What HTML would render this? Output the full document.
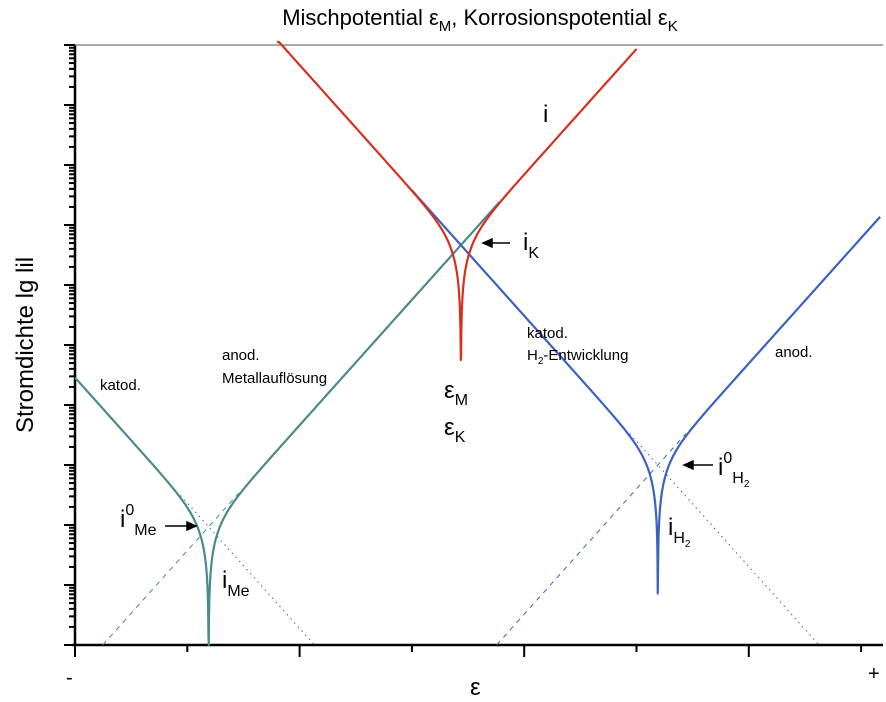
<!DOCTYPE html>
<html><head><meta charset="utf-8">
<style>
html,body{margin:0;padding:0;background:#fff;}
svg{display:block;font-family:"Liberation Sans",Arial,sans-serif;}
</style></head>
<body>
<svg id="chart" width="886" height="702" viewBox="0 0 886 702" xmlns="http://www.w3.org/2000/svg">
<text x="480" y="25" font-size="22" text-anchor="middle">Mischpotential ε<tspan font-size="15" dy="6">M</tspan><tspan dy="-6">, Korrosionspotential ε</tspan><tspan font-size="15" dy="6">K</tspan></text>
<text transform="translate(33,345) rotate(-90)" font-size="24" text-anchor="middle">Stromdichte   lg lil</text>
<g id="axes"></g>
<g id="series"></g>
<g font-size="15">
<text x="100" y="390">katod.</text>
<text x="222" y="360">anod.</text>
<text x="222" y="383">Metallauflösung</text>
<text x="527" y="338">katod.</text>
<text x="527" y="360">H<tspan font-size="10" dy="4">2</tspan><tspan dy="-4">-Entwicklung</tspan></text>
<text x="775" y="357">anod.</text>
</g>
<g font-size="24">
<text x="444" y="398">ε<tspan font-size="16" dy="7">M</tspan></text>
<text x="444" y="435">ε<tspan font-size="16" dy="7">K</tspan></text>
<text x="543" y="122">i</text>
<text x="523" y="250">i<tspan font-size="16" dy="8">K</tspan></text>
<text x="120" y="527">i<tspan font-size="16" dy="-12">0</tspan><tspan font-size="16" dy="20">Me</tspan></text>
<text x="222" y="588">i<tspan font-size="16" dy="8">Me</tspan></text>
<text x="718" y="475">i<tspan font-size="16" dy="-12">0</tspan><tspan font-size="16" dy="20">H</tspan><tspan font-size="10" dy="4">2</tspan></text>
<text x="668" y="535">i<tspan font-size="16" dy="8">H</tspan><tspan font-size="10" dy="4">2</tspan></text>
<text x="66" y="684" font-size="20">-</text>
<text x="470" y="695" font-size="24">ε</text>
<text x="868" y="680" font-size="20">+</text>
</g>
<g stroke="#000" stroke-width="1.5">
<line x1="510" y1="243" x2="488" y2="243"/><polygon points="483,243 492,239 492,247" fill="#000"/>
<line x1="713" y1="465" x2="690" y2="465"/><polygon points="684,465 693,461 693,469" fill="#000"/>
<line x1="165" y1="526" x2="190" y2="526"/><polygon points="196,526 187,522 187,530" fill="#000"/>
</g>
</svg>
<script>
// data (x in tick units, y in decades)
const eqPotential = [1.19, 5.19];      // metal, hydrogen
const exchangeDecade = [1.97, 3.0];    // lg i0
const tafelSlope = [2.09, 2.09];       // decades per x-unit
const floorDecade = [0.0, 0.62, 4.75]; // metal, hydrogen, total dip floor
const xTicks = [0,1,2,3,4,5,6,7];
const yDecades = [0,1,2,3,4,5,6,7,8,9,10];

const X0=75, XS=112.3, Y0=645, YS=60;
const sx = u => X0 + XS*u;
const sy = d => Y0 - YS*d;
const ns = "http://www.w3.org/2000/svg";
function mk(tag, parent){const e=document.createElementNS(ns,tag);parent.appendChild(e);return e;}
const axesG=document.getElementById('axes'), seriesG=document.getElementById('series');

const xAxisLine=mk('line',axesG);


xAxisLine.setAttribute('x1',sx(0)-3);xAxisLine.setAttribute('x2',883);xAxisLine.setAttribute('y1',Y0);xAxisLine.setAttribute('y2',Y0);
xAxisLine.setAttribute('stroke','#000');xAxisLine.setAttribute('stroke-width','2.5');
const yAxisLine=mk('line',axesG);


yAxisLine.setAttribute('x1',X0);yAxisLine.setAttribute('x2',X0);yAxisLine.setAttribute('y1',sy(10));yAxisLine.setAttribute('y2',Y0);
yAxisLine.setAttribute('stroke','#000');yAxisLine.setAttribute('stroke-width','2.5');
const topBorder=mk('line',axesG);


topBorder.setAttribute('x1',X0);topBorder.setAttribute('x2',883);topBorder.setAttribute('y1',sy(10));topBorder.setAttribute('y2',sy(10));
topBorder.setAttribute('stroke','#555');topBorder.setAttribute('stroke-width','1');
xTicks.forEach((t,i)=>{
  const l=mk('line',axesG);
  
  
  l.setAttribute('x1',sx(t));l.setAttribute('x2',sx(t));l.setAttribute('y1',Y0);l.setAttribute('y2',Y0+(i%2==0?12:7));
  l.setAttribute('stroke','#000');l.setAttribute('stroke-width','2');
});
yDecades.forEach(d=>{
  const l=mk('line',axesG);
  
  
  l.setAttribute('x1',X0-11);l.setAttribute('x2',X0);l.setAttribute('y1',sy(d));l.setAttribute('y2',sy(d));
  l.setAttribute('stroke','#000');l.setAttribute('stroke-width','2');
  if(d<10){for(let m=2;m<=9;m++){
    const k=mk('line',axesG);
    
    
    const yy=sy(d+Math.log10(m));
    k.setAttribute('x1',X0-6);k.setAttribute('x2',X0);k.setAttribute('y1',yy);k.setAttribute('y2',yy);
    k.setAttribute('stroke','#000');k.setAttribute('stroke-width','2');
  }}
});

function partial(k,u,dir){return Math.pow(10,exchangeDecade[k]+dir*tafelSlope[k]*(u-eqPotential[k]));}
function net(k,u){return partial(k,u,1)-partial(k,u,-1);}
function lg(v,fl){return Math.log10(Math.max(Math.abs(v),Math.pow(10,fl)));}
function drawPath(fn,u0,u1,color,w,dash,name){
  let d="";const N=1600;
  for(let i=0;i<=N;i++){const u=u0+(u1-u0)*i/N;let v=fn(u);v=Math.max(Math.min(v,10.05),0);
    d+=(i?"L":"M")+sx(u).toFixed(2)+","+sy(v).toFixed(2);}
  const p=mk('path',seriesG);
  
  
  p.setAttribute('d',d);p.setAttribute('fill','none');p.setAttribute('stroke',color);
  p.setAttribute('stroke-width',w);if(dash)p.setAttribute('stroke-dasharray',dash);
  p.setAttribute('stroke-linejoin','round');
}
const inv=(k,dec)=>eqPotential[k]+(dec-exchangeDecade[k])/tafelSlope[k];
drawPath(u=>Math.log10(partial(0,u,1)),inv(0,0),eqPotential[0]+0.27,'#4a8a8a',1,'5,5','metal-anodic-tafel');
drawPath(u=>Math.log10(partial(0,u,-1)),eqPotential[0]-0.25,2*eqPotential[0]-inv(0,0),'#3a5fbf',1,'1.5,4','metal-cathodic-tafel');
drawPath(u=>Math.log10(partial(1,u,1)),inv(1,0),eqPotential[1]+0.25,'#3a5fbf',1,'5,5','hydrogen-anodic-tafel');
drawPath(u=>Math.log10(partial(1,u,-1)),eqPotential[1]-0.25,2*eqPotential[1]-inv(1,0),'#3a5fbf',1,'1.5,4','hydrogen-cathodic-tafel');
drawPath(u=>lg(net(0,u),floorDecade[0]),0,3.78,'#4a8a8a',2.2,null,'metal-curve');
drawPath(u=>lg(net(1,u),floorDecade[1]),3.0,7.17,'#3b62c0',2.2,null,'hydrogen-curve');
drawPath(u=>lg(net(0,u)+net(1,u),floorDecade[2]),1.8,5.0,'#d8301f',2.2,null,'total-current-curve');
</script>
</body></html>
